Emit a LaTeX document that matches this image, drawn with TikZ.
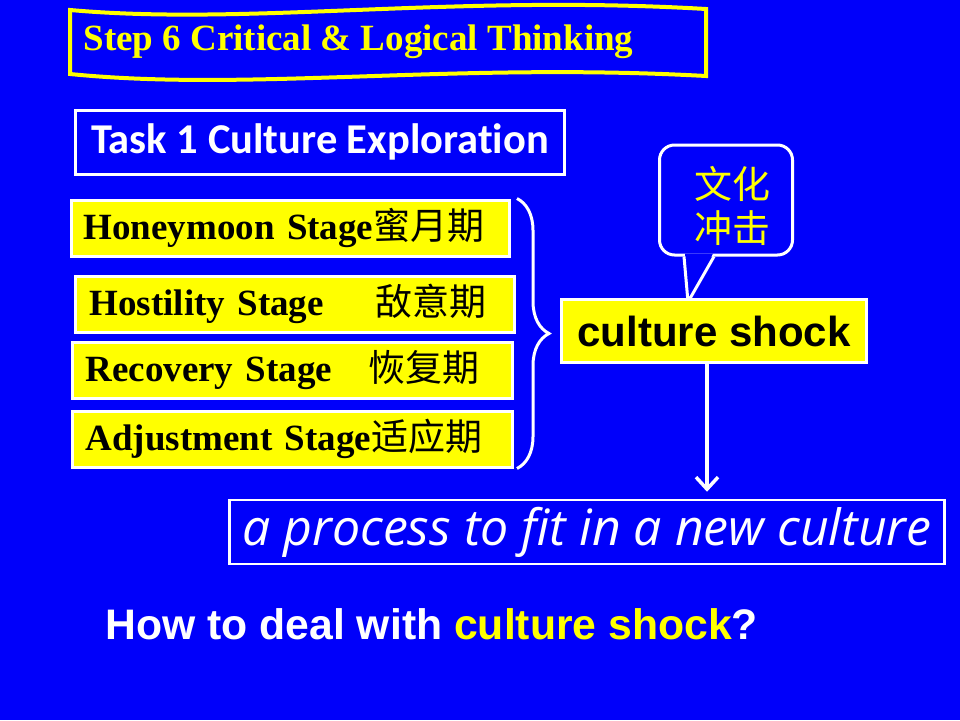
\documentclass[tikz,border=0pt]{standalone}
\usepackage{fontspec}
\setmainfont{Liberation Serif}
\newfontfamily\arialfont{Liberation Sans}
\newfontfamily\calibrifont[Ligatures=NoCommon]{Carlito}
\newfontfamily\handfont{Open Sans}
\newfontfamily\cjk{Noto Sans CJK SC}
\usetikzlibrary{decorations.pathreplacing,arrows.meta}
\definecolor{slideblue}{RGB}{0,0,250}
\definecolor{slideyellow}{RGB}{255,255,0}
\newcommand{\zh}[1]{{\cjk\mdseries #1}}
\tikzset{
  stagebox/.style={draw=white, fill=slideyellow, line width=3pt, anchor=west, minimum height=56pt,
    inner xsep=12pt, text width=414pt, align=left, font=\bfseries\fontsize{37}{44}\selectfont},
  whitebox/.style={draw=white, line width=3pt, text=white}
}
\begin{document}
\begin{tikzpicture}[x=1pt,y=-1pt]
\useasboundingbox (0,0) rectangle (960,720);
\fill[slideblue] (0,0) rectangle (960,720);
% title banner
\draw[slideyellow, line width=4pt] (70,10) .. controls (250,26) and (450,-6) .. (706,9) -- (706,76)
  .. controls (450,62) and (250,92) .. (70,74) -- cycle;
\node[anchor=west, text=slideyellow, font=\bfseries\fontsize{37}{44}\selectfont] (title) at (80,42) {Step 6 Critical \& Logical Thinking};
\node[whitebox, anchor=west, minimum width=489pt, minimum height=64pt, inner xsep=11pt,
  font=\calibrifont\bfseries\fontsize{42.5}{50}\selectfont] (task) at (74,142) {Task 1 Culture Exploration\hspace{28pt}};
% stages
\node[stagebox] (honeymoon) at (70,228) {Honeymoon Stage\zh{蜜月期}};
\node[stagebox, inner xsep=14pt, text width=411pt] (hostility) at (74,304) {Hostility Stage\hspace{52pt}\zh{敌意期}};
\node[stagebox, inner xsep=13pt, text width=414pt] (recovery) at (71,370) {Recovery Stage\hspace{36pt}\zh{恢复期}};
\node[stagebox, inner xsep=13pt, text width=414pt] (adjustment) at (71,439) {Adjustment Stage\zh{适应期}};
\draw[white, line width=3pt, decorate, decoration={brace, amplitude=32pt}]
  ([xshift=1pt]hostility.east |- honeymoon.north) -- ([xshift=1pt]hostility.east |- adjustment.south);
% callout
\node[whitebox, rounded corners=15pt, minimum width=133pt, minimum height=110pt] (callout) at (726,200) {};
\node[text=slideyellow, align=center, font=\cjk\fontsize{38}{44}\selectfont] (zhtext)
  at ([xshift=6pt,yshift=-6pt]callout.center) {文化\\冲击};
\coordinate (tip) at (688,302);
\fill[slideblue] ([xshift=-41pt,yshift=3pt]callout.south) -- ([xshift=-13pt,yshift=3pt]callout.south) -- (tip) -- cycle;
\draw[white, line width=3pt] ([xshift=-42pt]callout.south) -- (tip) -- ([xshift=-12pt]callout.south);
\node[whitebox, fill=slideyellow, text=black, minimum width=305pt, minimum height=63pt,
  font=\arialfont\bfseries\fontsize{42}{50}\selectfont] (shock) at (714,331) {culture shock};
\node[whitebox, line width=2.5pt, minimum width=715pt, minimum height=64pt,
  font=\handfont\itshape\fontsize{50}{58}\selectfont] (process) at (587,532) {a process to fit in a new culture};
\draw[white, line width=3.5pt, shorten >=7pt, -{Straight Barb[length=12pt,width=22pt]}]
  ([xshift=-7pt]shock.south) -- ([xshift=-7pt]shock.south |- process.north);
\node[anchor=west, text=white, font=\arialfont\bfseries\fontsize{42.7}{50}\selectfont] (question) at (102,624)
  {How to deal with \textcolor{slideyellow}{culture shock}?};
\end{tikzpicture}
\end{document}
